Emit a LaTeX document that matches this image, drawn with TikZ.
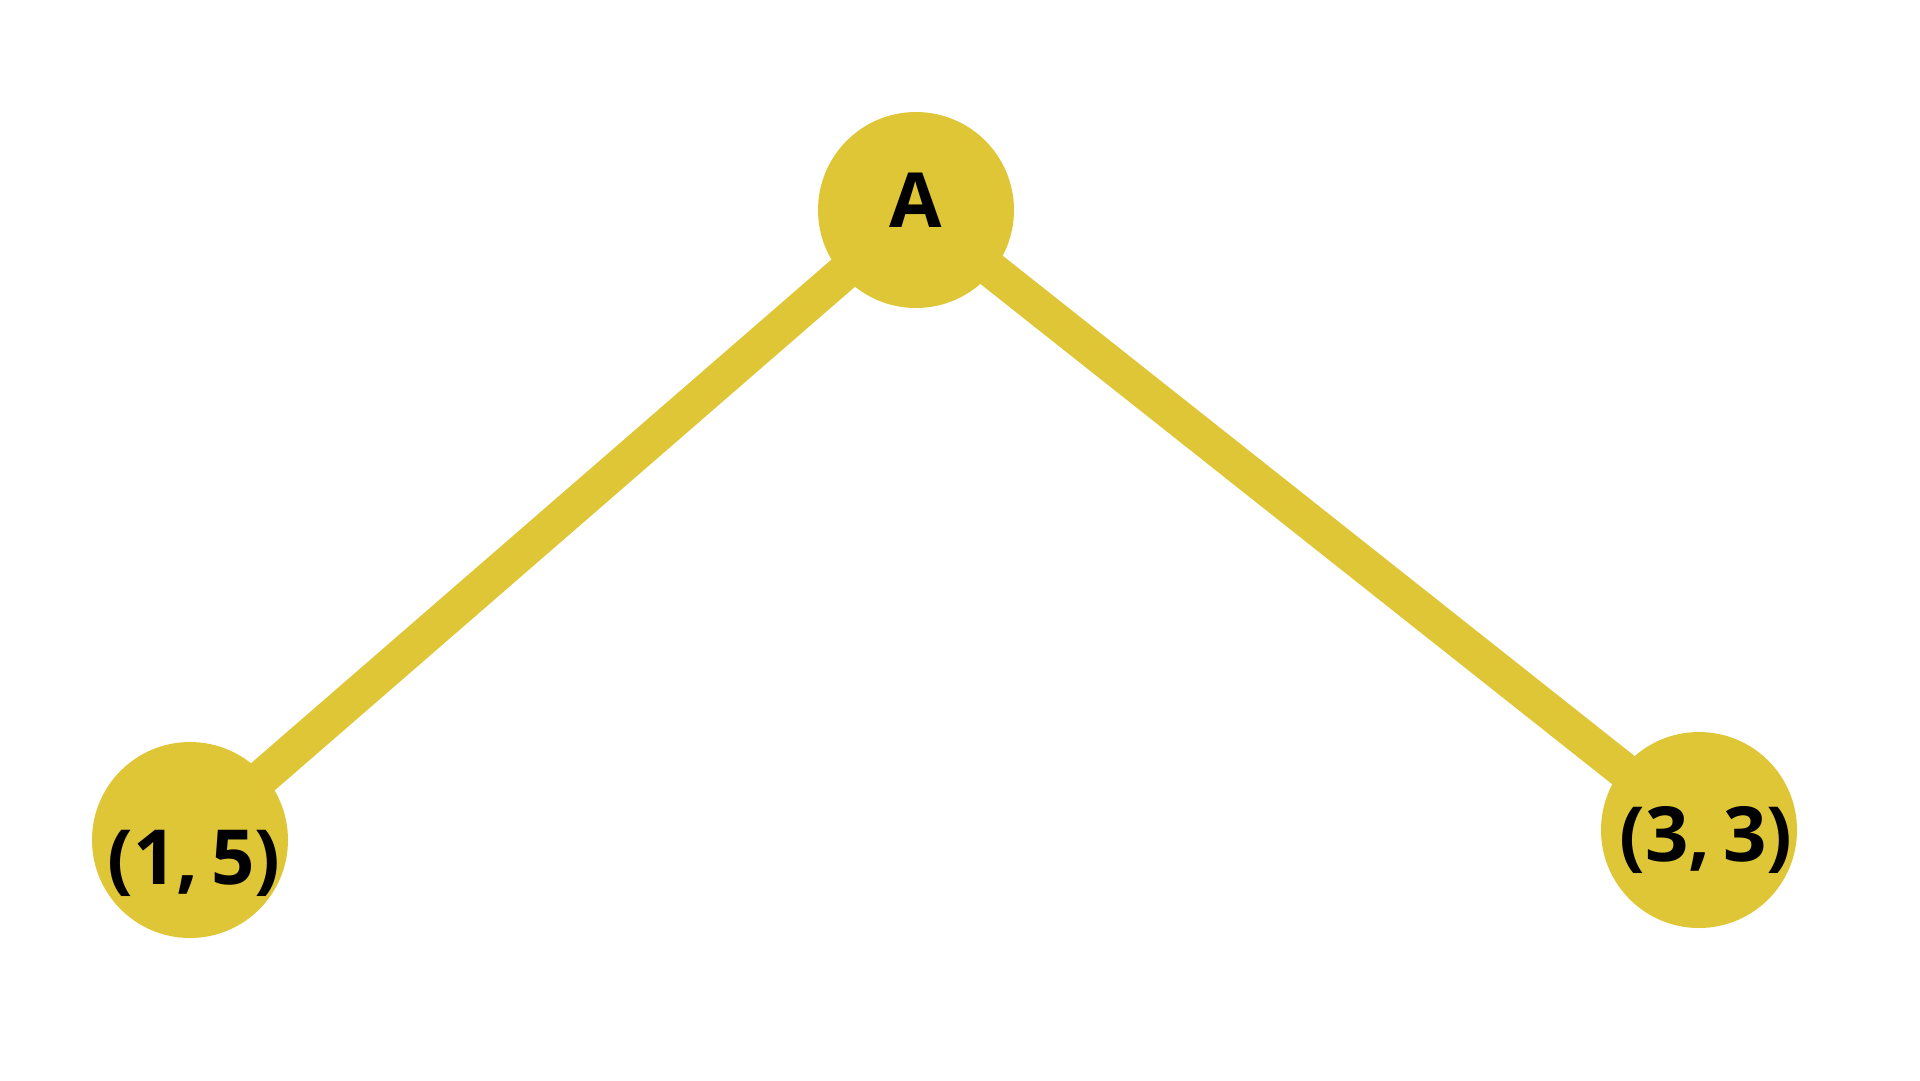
\documentclass[tikz,border=0pt]{standalone}
\usepackage{fontspec}
\setmainfont{Open Sans}
\usepackage{tikz}
\usetikzlibrary{backgrounds}
\definecolor{vertexyellow}{RGB}{223,198,55}

\begin{document}
\begin{tikzpicture}[x=1pt, y=-1pt, every node/.style={},
    vertex/.style={circle, fill=vertexyellow, inner sep=0pt, minimum size=196pt},
    vlabel/.style={font=\fontsize{76}{80}\selectfont\bfseries, text height=54pt, text depth=0pt, inner sep=0pt},
    edge/.style={draw=vertexyellow, line width=36pt} ]

            \useasboundingbox (0,0) rectangle (1920,1080);

            \node[vertex, label={[vlabel, yshift=9.5pt]center:A}] (a) at (916,210) {};
            \node[vertex, label={[vlabel, xshift=4pt, yshift=-17pt]center:(1,\,5)}] (b) at (190,840) {};
            \node[vertex, label={[vlabel, xshift=7pt, yshift=-4pt]center:(3,\,3)}] (c) at (1699,830) {};

            \begin{pgfonlayer}{background}
                \foreach \n in {b,c}
                    \draw[edge] (a.center) -- (\n.center);
            \end{pgfonlayer}

        \end{tikzpicture}
\end{document}
